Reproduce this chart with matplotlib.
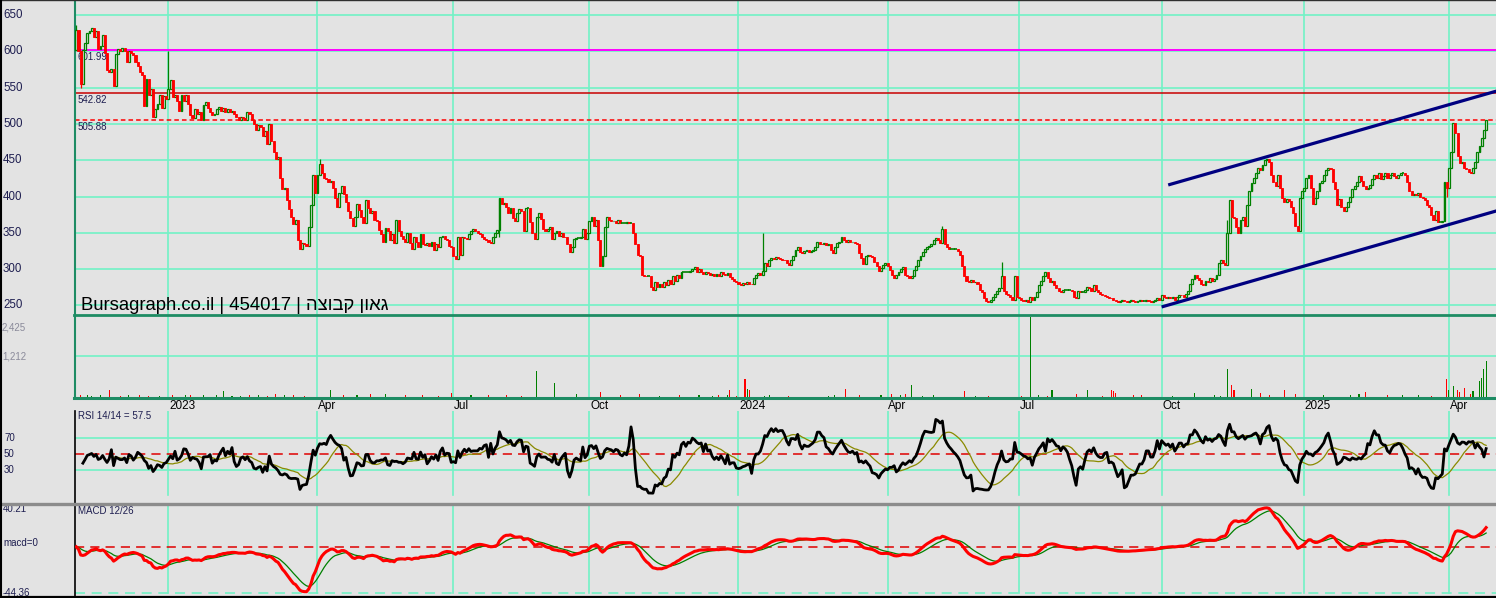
import numpy as np
import pandas as pd
import matplotlib
matplotlib.use("Agg")
import matplotlib.pyplot as plt
from matplotlib import transforms
from matplotlib.lines import Line2D

plt.rcParams['font.family'] = ['Liberation Sans', 'DejaVu Sans']

# ---------------- data ----------------
quarter_names = ["", "2023", "Apr", "Jul", "Oct", "2024", "Apr", "Jul", "Oct", "2025", "Apr"]

close_2022q4 = [630, 600, 555, 602, 612, 625, 628, 632, 620, 628, 603, 607, 622, 598, 574, 572, 576, 552, 596, 603,
                600, 604, 601, 585, 600, 598, 595, 585, 580, 572, 568, 525, 562, 540, 548, 510, 520, 528, 540, 522,
                538, 535]
close_2023q1 = [548, 560, 537, 540, 532, 518, 540, 532, 540, 528, 512, 508, 520, 514, 516, 505, 526, 530, 522, 516,
                512, 514, 520, 524, 518, 522, 516, 520, 516, 518, 514, 510, 506, 510, 508, 506, 516, 514, 505, 500,
                492, 498, 496, 484, 490, 472, 500, 476, 462, 452, 455, 425, 410, 412, 395, 383, 372, 362, 368, 340,
                328, 336, 335, 332, 358, 388, 430, 405]
close_2023q2 = [430, 445, 432, 426, 424, 420, 422, 412, 398, 386, 405, 415, 404, 392, 380, 370, 360, 372, 390, 382,
                372, 364, 395, 384, 378, 380, 368, 366, 354, 348, 338, 357, 352, 340, 348, 336, 368, 352, 346, 342,
                338, 350, 336, 328, 345, 338, 331, 348, 334, 333, 336, 332, 338, 326, 335, 330, 344, 346, 342, 340,
                332, 330]
close_2023q3 = [318, 314, 345, 320, 344, 343, 342, 348, 352, 356, 352, 350, 349, 345, 342, 340, 338, 336, 344, 350,
                354, 398, 390, 391, 385, 378, 384, 370, 366, 378, 383, 380, 352, 384, 384, 365, 350, 342, 372, 378,
                369, 356, 352, 355, 358, 342, 350, 352, 346, 350, 345, 344, 335, 323, 330, 342, 343, 343, 344, 356,
                342, 350]
close_2023q4 = [366, 372, 360, 368, 340, 305, 318, 358, 372, 368, 366, 367, 364, 368, 364, 364, 364, 365, 364, 364,
                350, 335, 320, 318, 292, 291, 290, 290, 275, 271, 282, 276, 280, 275, 282, 278, 285, 280, 290, 284,
                292, 288, 296, 296, 296, 296, 298, 300, 303, 296, 300, 296, 293, 296, 295, 292, 294, 291, 293, 290,
                296, 294, 292, 295, 289, 287, 284, 282]
close_2024q1 = [280, 278, 281, 279, 282, 280, 279, 288, 292, 295, 292, 298, 308, 305, 312, 316, 314, 317, 315, 314,
                313, 312, 308, 306, 312, 318, 326, 330, 324, 322, 325, 326, 324, 325, 326, 330, 337, 335, 334, 336,
                333, 335, 326, 322, 330, 336, 338, 345, 340, 338, 340, 337, 338, 336, 335, 322, 315, 307, 318, 320,
                318, 317, 310, 304, 298, 302, 306, 308]
close_2024q2 = [305, 299, 292, 288, 292, 296, 300, 303, 292, 290, 288, 290, 299, 305, 312, 318, 324, 328, 330, 332,
                335, 340, 343, 340, 336, 356, 335, 330, 328, 328, 328, 328, 325, 320, 305, 290, 284, 282, 285, 282,
                283, 280, 272, 268, 260, 256, 255, 258, 262, 266, 270, 274, 290, 270, 266, 264, 262, 258, 290, 262]
close_2024q3 = [260, 258, 256, 258, 255, 262, 258, 262, 268, 278, 284, 290, 296, 288, 282, 284, 278, 274, 270, 268,
                271, 271, 271, 271, 270, 262, 260, 270, 268, 268, 272, 276, 274, 270, 278, 272, 268, 266, 265, 263,
                262, 261, 260, 258, 256, 255, 256, 257, 256, 255, 256, 257, 256, 255, 256, 257, 256, 256, 257, 256,
                255, 256, 257, 260, 258]
close_2024q4 = [264, 262, 260, 262, 261, 262, 258, 262, 265, 264, 262, 266, 270, 280, 286, 292, 288, 285, 280, 278,
                284, 282, 288, 284, 286, 292, 308, 312, 308, 306, 350, 395, 372, 370, 358, 350, 368, 372, 360, 388,
                408, 418, 426, 432, 440, 436, 444, 450, 452, 448, 430, 420, 414, 430, 412, 398, 392, 396, 394, 385,
                378, 360, 352, 398, 408]
close_2025q1 = [412, 426, 430, 412, 390, 398, 408, 418, 422, 430, 436, 440, 438, 420, 410, 388, 396, 386, 380, 386,
                392, 400, 410, 415, 420, 428, 422, 414, 410, 412, 416, 424, 430, 426, 432, 424, 428, 432, 426, 430,
                432, 428, 425, 430, 432, 432, 430, 420, 408, 402, 404, 402, 405, 400, 398, 395, 388, 385, 375, 368,
                380, 365, 365, 366, 420, 412]
close_2025q2 = [440, 462, 502, 488, 456, 446, 448, 440, 438, 434, 432, 440, 448, 462, 470, 480, 492, 506]

first_open = 602
high_days = [0, 42, 111, 313, 395, 422, 525]
high_vals = [636, 600, 452, 350, 360, 310, 368]
low_days = [2, 193, 625]
low_vals = [550, 345, 399]

vol_days = [2, 5, 7, 11, 15, 20, 24, 29, 33, 38, 44, 50, 52, 58, 64, 67, 71, 75, 79, 83, 87, 91, 95, 99,
            104, 116, 122, 128, 134, 141, 150, 158, 165, 171, 180, 188, 196, 203, 210, 218, 228, 239, 248, 257,
            266, 275, 284,
            290, 293, 297, 298, 301, 305, 306, 307, 314, 316, 325, 343, 346, 351, 357, 367, 372, 376, 378, 381,
            386, 391, 405, 410, 416, 431, 435, 439, 443, 445, 456, 461, 468, 472,
            473, 474, 482, 486, 500, 510, 519, 522, 525, 527, 528, 536, 540, 544, 551, 556, 569, 581, 585, 588,
            598, 605, 612, 618, 625, 626, 628, 630, 631, 633, 636, 637, 640, 641, 642, 643]
vol_vals = [70, 60, 40, 50, 200, 40, 50, 50, 40, 40, 60, 60, 70, 60, 50, 180, 40, 40, 50, 60, 40, 80, 60, 50,
            40, 200, 60, 50, 100, 100, 50, 60, 40, 120, 60, 50, 60, 40, 770, 400, 80, 150, 50, 100,
            40, 60, 50,
            40, 60, 60, 200, 40, 525, 250, 220, 40, 50, 40, 40, 60, 230, 50, 50, 100, 60, 80, 350,
            40, 50, 170, 40, 40, 40, 2375, 50, 40, 200, 80, 200, 40, 200,
            170, 120, 60, 70, 40, 110, 50, 40, 840, 350, 200, 250, 130, 60, 220, 100, 60, 70, 80, 140,
            50, 60, 60, 40, 525, 220, 320, 200, 150, 280, 80, 180, 465, 575, 840, 1060]

price_ticks = [250, 300, 350, 400, 450, 500, 550, 600, 650]
level_vals = [601.99, 542.82, 505.88]
upper_line_days = [498, 648]
upper_line_prices = [416, 545.5]
lower_line_days = [495, 648]
lower_line_prices = [248, 380.5]

rsi_levels = [70, 50, 30]
macd_top, macd_bottom = 40.21, -44.36
vol_labels = ["2,425", "1,212"]
vol_grid = 1212
title_text = "Bursagraph.co.il | 454017 | "
hebrew_name = "גאון קבוצה"
rsi_text = "RSI 14/14 = 57.5"
macd_text = "MACD 12/26"

# ---------------- derived ----------------
quarters = [close_2022q4, close_2023q1, close_2023q2, close_2023q3, close_2023q4, close_2024q1,
            close_2024q2, close_2024q3, close_2024q4, close_2025q1, close_2025q2]
lens = [len(q) for q in quarters]
starts = np.cumsum([0] + lens[:-1])
closes = np.array(sum(quarters, []), dtype=float)
n = len(closes)
x = np.arange(n)
opens = np.r_[first_open, closes[:-1]]
highs = np.maximum(opens, closes)
lows = np.minimum(opens, closes)
for d, v in zip(high_days, high_vals):
    highs[d] = max(highs[d], v)
for d, v in zip(low_days, low_vals):
    lows[d] = min(lows[d], v)

s = pd.Series(closes)
dlt = s.diff()
gain = dlt.clip(lower=0)
loss = -dlt.clip(upper=0)
ag = gain.rolling(14, min_periods=3).mean()
al = loss.rolling(14, min_periods=3).mean()
rsi = 100 * ag / (ag + al)
rsi_ma = rsi.rolling(14).mean()
ema12 = s.ewm(span=12, adjust=False).mean()
ema26 = s.ewm(span=26, adjust=False).mean()
macd = ema12 - ema26
signal = macd.ewm(span=9, adjust=False).mean()

# ---------------- style ----------------
W, H = 1496, 598
bg = '#E3E3E3'
grid_c = '#72F2C6'
teal = '#1E8C64'
up_c = '#008000'
dn_c = '#FF0000'
lab_c = '#1E1E50'
LEFT = 75

fig = plt.figure(figsize=(W / 100, H / 100), dpi=100)
fig.patch.set_facecolor(bg)


def rect(top, bottom):
    return [LEFT / W, 1 - bottom / H, (W - LEFT) / W, (bottom - top) / H]


ax_p = fig.add_axes(rect(0, 315))
ax_v = fig.add_axes(rect(315, 397))
ax_r = fig.add_axes(rect(411, 503))
ax_m = fig.add_axes(rect(504, 597))
xlim = (-0.6, 647.5)
for ax in (ax_p, ax_v, ax_r, ax_m):
    ax.set_facecolor(bg)
    ax.set_xlim(*xlim)
    ax.set_xticks([])
    ax.set_yticks([])
    for sp in ax.spines.values():
        sp.set_visible(False)
    ax.spines['left'].set_visible(True)

for ax in (ax_p, ax_v):
    ax.spines['left'].set_color(teal)
    ax.spines['left'].set_linewidth(1.5)
for ax in (ax_r, ax_m):
    ax.spines['left'].set_color('black')
    ax.spines['left'].set_linewidth(1.2)

ax_p.set_ylim(236.9, 670.7)
ax_v.set_ylim(0, 2425)
ax_r.set_ylim(-11.25, 103.75)
ax_m.set_ylim(-48.2, 41.17)

qstarts = starts[1:]

# ---------- grids ----------
for t in price_ticks:
    ax_p.axhline(t, color=grid_c, lw=1.2, zorder=0)
for q in qstarts:
    ax_p.axvline(q, color=grid_c, lw=1.2, zorder=0)
    ax_v.axvline(q, color=grid_c, lw=1.2, zorder=0)
    ax_r.axvline(q, ymin=0.087, ymax=1.0, color=grid_c, lw=1.2, zorder=0)
    ax_m.axvline(q, ymin=0.043, ymax=0.99, color=grid_c, lw=1.2, zorder=0)

# ---------- price panel ----------
ax_p.axhline(level_vals[0], color='#FF00FF', lw=1.4, zorder=1)
ax_p.axhline(level_vals[1], color='#C80000', lw=1.1, zorder=1)
ax_p.axhline(level_vals[2], color='#FF0000', lw=1.1, ls=(0, (3, 2)), zorder=1)
for v in level_vals:
    tr = transforms.offset_copy(ax_p.transData, fig=fig, x=0, y=-2, units='dots')
    ax_p.text(0.5, v, f"{v:.2f}", transform=tr, fontsize=7, color=lab_c, va='top', ha='left', zorder=2)

up = closes > opens
dn = closes < opens
fl = closes == opens
wick_col = np.where(closes >= opens, up_c, dn_c)
ax_p.vlines(x, lows, highs, colors=wick_col, lw=0.9, zorder=3)
ax_p.bar(x[up], (closes - opens)[up], bottom=opens[up], width=0.85, facecolor=bg,
         edgecolor=up_c, linewidth=0.9, zorder=4)
ax_p.bar(x[dn], (opens - closes)[dn], bottom=closes[dn], width=0.95, facecolor=dn_c,
         edgecolor=dn_c, linewidth=0.6, zorder=4)
ax_p.hlines(closes[fl], x[fl] - 0.55, x[fl] + 0.55, colors=up_c, lw=1.2, zorder=4)

ax_p.plot(upper_line_days, upper_line_prices, color='#000080', lw=2.3, zorder=5, solid_capstyle='butt')
ax_p.plot(lower_line_days, lower_line_prices, color='#000080', lw=2.3, zorder=5, solid_capstyle='butt')

ax_p.text(2, 0.031, title_text + hebrew_name[::-1], transform=transforms.blended_transform_factory(
    ax_p.transData, ax_p.transAxes), fontsize=13.3, color='black', va='center', ha='left', zorder=6)

tr_pl = transforms.blended_transform_factory(fig.transFigure, ax_p.transData)
for t in price_ticks:
    ax_p.text(3 / W, t, str(t), transform=tr_pl, fontsize=8.3, color=lab_c, va='center', ha='left')

# ---------- volume ----------
ax_v.axhline(vol_grid, color=grid_c, lw=1.2, zorder=0)
vd = np.array(vol_days)
vv = np.array(vol_vals)
vcol = np.where(closes[vd] >= opens[vd], up_c, dn_c)
ax_v.bar(vd, vv, width=0.5, color=vcol, zorder=3)
tr_vl = transforms.blended_transform_factory(fig.transFigure, ax_v.transAxes)
ax_v.text(2 / W, (397 - 327) / 82, vol_labels[0], transform=tr_vl, fontsize=7, color='#8A8A9A',
          va='center', ha='left')
ax_v.text(2 / W, vol_grid / 2425, vol_labels[1], transform=tr_vl, fontsize=7, color='#8A8A9A',
          va='center', ha='left')

# ---------- x labels ----------
tr_xl = transforms.blended_transform_factory(ax_r.transData, fig.transFigure)
for q, name in zip(qstarts, quarter_names[1:]):
    ax_r.text(q + 0.3, 1 - 406 / H, name, transform=tr_xl, fontsize=8.5, color='black',
              ha='left', va='center')

# ---------- RSI ----------
ax_r.axhline(rsi_levels[0], color=grid_c, lw=1.2, zorder=0)
ax_r.axhline(rsi_levels[2], color=grid_c, lw=1.2, zorder=0)
ax_r.axhline(rsi_levels[1], color='#E00000', lw=1.1, ls=(0, (6, 4)), zorder=1)
ax_r.plot(x, rsi_ma, color='#8A8A00', lw=0.9, zorder=2)
ax_r.plot(x, rsi, color='black', lw=2.0, zorder=3)
tr_rl = transforms.blended_transform_factory(fig.transFigure, ax_r.transData)
for lv in rsi_levels:
    ax_r.text(4 / W, lv, str(lv), transform=tr_rl, fontsize=7, color=lab_c, va='center', ha='left')
ax_r.text(78 / W, 1 - 416 / H, rsi_text, transform=fig.transFigure, fontsize=7, color=lab_c,
          va='center', ha='left')

# ---------- MACD ----------
ax_m.axhline(macd_top, color=grid_c, lw=1.2, ls=(0, (6, 4)), zorder=0, clip_on=False)
ax_m.axhline(macd_bottom, color=grid_c, lw=1.2, ls=(0, (6, 4)), zorder=0)
ax_m.axhline(0, color='#E00000', lw=1.1, ls=(0, (6, 4)), zorder=1)
ax_m.plot(x, signal, color='#008000', lw=0.9, zorder=2)
ax_m.plot(x, macd, color='#FF0000', lw=2.2, zorder=3)
tr_ml = transforms.blended_transform_factory(fig.transFigure, ax_m.transData)
ax_m.text(3 / W, macd_top - 4, f"{macd_top:.2f}", transform=tr_ml, fontsize=7, color=lab_c, va='center', ha='left')
ax_m.text(3 / W, 4, "macd=0", transform=tr_ml, fontsize=7, color=lab_c, va='center', ha='left')
ax_m.text(3 / W, macd_bottom, f"{macd_bottom:.2f}", transform=tr_ml, fontsize=7, color=lab_c,
          va='center', ha='left')
ax_m.text(78 / W, 1 - 511 / H, macd_text, transform=fig.transFigure, fontsize=7, color=lab_c,
          va='center', ha='left')

# ---------- frame lines ----------
def hline_fig(py, x0, color, lw):
    fig.add_artist(Line2D([x0, 1], [1 - py / H, 1 - py / H], transform=fig.transFigure, color=color, lw=lw))


hline_fig(315, (LEFT - 1) / W, teal, 2.0)
hline_fig(397.5, (LEFT - 1) / W, teal, 2.2)
hline_fig(503.5, 0, '#8C8C8C', 2.4)
hline_fig(597.2, 0, 'black', 1.6)
hline_fig(0.4, 0, '#303030', 1.0)
fig.add_artist(Line2D([0.6 / W, 0.6 / W], [0, 1], transform=fig.transFigure, color='black', lw=1.5))

fig.savefig("out.png", dpi=100, facecolor=bg)
